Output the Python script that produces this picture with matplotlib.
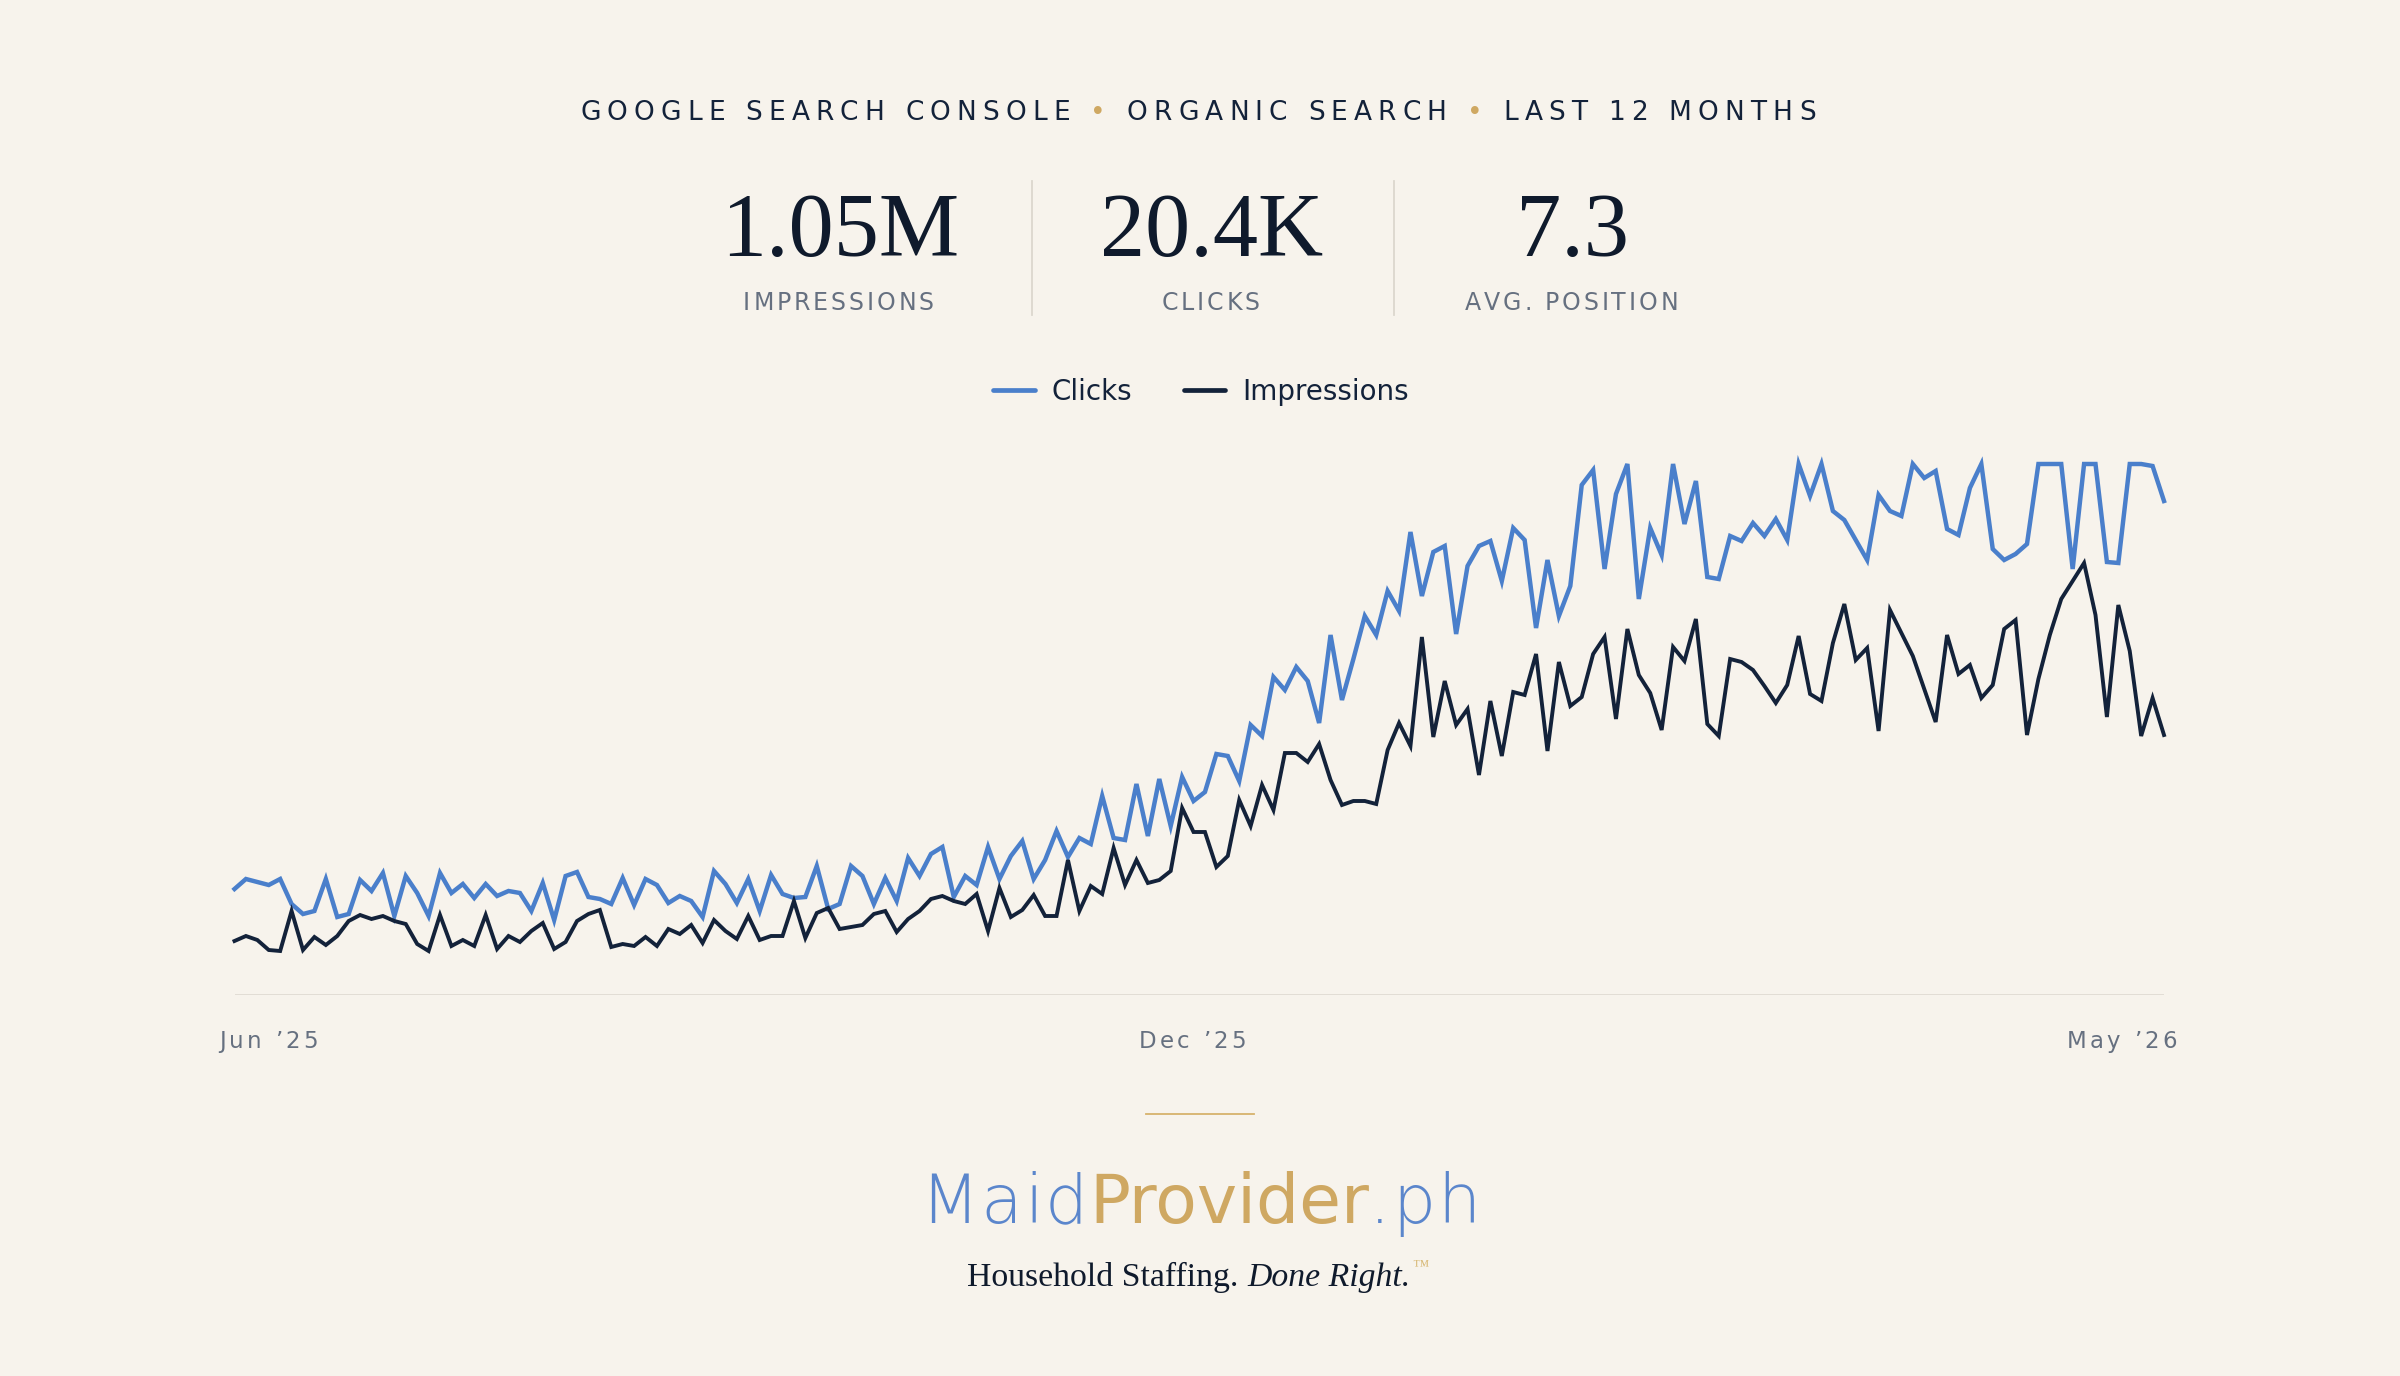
import matplotlib
matplotlib.use("Agg")
import matplotlib.pyplot as plt
from matplotlib.font_manager import FontProperties
from matplotlib.lines import Line2D
import numpy as np

# canvas in pixels
W, H = 2400, 1376
BG = "#F7F3EC"
NAVY = "#13223A"
INK = "#0F1A2C"
BLUE = "#4A7FCB"
GOLD = "#CFA862"
GREY = "#667080"
RULE = "#DCD7CE"

# values (relative units, same scale for both lines)
clicks = [
    106, 116, 113, 110, 116, 91, 81, 84, 116, 78,
    81, 115, 104, 122, 79, 119, 102, 79, 122, 102,
    111, 97, 111, 99, 104, 102, 84, 112, 75, 119,
    123, 98, 96, 91, 117, 90, 116, 110, 92, 99,
    94, 78, 124, 111, 92, 116, 84, 120, 101, 97,
    98, 129, 86, 91, 129, 119, 91, 117, 94, 137,
    119, 141, 148, 98, 119, 110, 148, 116, 139, 154,
    116, 135, 164, 138, 157, 151, 199, 157, 155, 211,
    159, 216, 169, 218, 194, 203, 241, 239, 214, 270,
    259, 318, 305, 328, 314, 272, 360, 295, 336, 379,
    360, 404, 384, 463, 399, 443, 449, 361, 429, 449,
    454, 414, 467, 455, 367, 435, 379, 409, 510, 525,
    426, 501, 531, 396, 467, 440, 531, 471, 514, 418,
    416, 459, 454, 472, 459, 476, 455, 531, 499, 531,
    484, 475, 455, 435, 500, 484, 479, 531, 517, 524,
    466, 460, 507, 531, 446, 435, 441, 451, 531, 531,
    531, 426, 531, 531, 433, 432, 531, 531, 529, 494,
]
impressions = [
    54, 59, 55, 45, 44, 84, 45, 58, 50, 59,
    74, 80, 76, 79, 74, 71, 51, 44, 80, 49,
    55, 49, 80, 46, 59, 53, 64, 72, 46, 53,
    74, 81, 85, 48, 51, 49, 58, 49, 66, 61,
    70, 52, 75, 64, 56, 79, 55, 59, 59, 94,
    57, 82, 87, 66, 68, 70, 81, 84, 63, 76,
    84, 96, 99, 94, 91, 101, 64, 107, 78, 85,
    100, 79, 79, 135, 84, 109, 101, 147, 110, 135,
    112, 115, 124, 187, 163, 163, 128, 139, 195, 169,
    210, 185, 242, 242, 233, 251, 215, 190, 194, 194,
    191, 245, 272, 249, 358, 258, 314, 270, 286, 220,
    294, 239, 303, 300, 341, 244, 333, 289, 298, 341,
    358, 276, 366, 320, 302, 265, 348, 334, 376, 271,
    259, 336, 333, 325, 309, 292, 310, 359, 301, 294,
    352, 391, 335, 347, 264, 385, 362, 339, 306, 273,
    360, 321, 330, 297, 310, 366, 375, 260, 316, 360,
    396, 414, 432, 380, 278, 390, 344, 259, 297, 260,
]
x_labels = ["Jun \u201925", "Dec \u201925", "May \u201926"]
header_parts = ["GOOGLE SEARCH CONSOLE", "ORGANIC SEARCH", "LAST 12 MONTHS"]
kpi_values = ["1.05M", "20.4K", "7.3"]
kpi_labels = ["IMPRESSIONS", "CLICKS", "AVG. POSITION"]

fig = plt.figure(figsize=(W / 100, H / 100), dpi=100, facecolor=BG)
renderer = fig.canvas.get_renderer()


def fp(family="DejaVu Sans", size=12, weight="normal", style="normal"):
    return FontProperties(family=family, size=size, weight=weight, style=style)


def text_width(s, prop):
    bar = renderer.get_text_width_height_descent("||", prop, ismath=False)[0]
    return renderer.get_text_width_height_descent("|" + s + "|", prop, ismath=False)[0] - bar


def draw_runs(runs, x, y, align="center"):
    # runs: (text, props, color, tracking px); x, y in pixels from top-left, y = baseline
    pieces = []
    for text, prop, color, track in runs:
        chunks = list(text) if track else [text]
        for ch in chunks:
            pieces.append((ch, prop, color, text_width(ch, prop) + track))
    total = sum(p[3] for p in pieces)
    if align == "center":
        x0 = x - total / 2
    elif align == "right":
        x0 = x - total
    else:
        x0 = x
    for ch, prop, color, adv in pieces:
        fig.text(x0 / W, 1 - y / H, ch, fontproperties=prop, color=color,
                 ha="left", va="baseline")
        x0 += adv
    return total


# header line
hp = fp(size=19)
tr = 0.233 * 19 * 100 / 72
runs = []
for k, part in enumerate(header_parts):
    if k:
        runs.append((" \u2022 ", hp, GOLD, tr))
    runs.append((part, hp, NAVY, tr))
draw_runs(runs, 1201, 120)

# KPI block
kpi_x = [840, 1212, 1573]
for cx, val, lab in zip(kpi_x, kpi_values, kpi_labels):
    fig.text(cx / W, 1 - 256 / H, val, fontproperties=fp("Liberation Serif", 65),
             color=INK, ha="center", va="baseline")
    draw_runs([(lab, fp(size=17), GREY, 2.9)], cx, 310)
for sx in [1032, 1394]:
    fig.add_artist(Line2D([sx / W, sx / W], [1 - 181 / H, 1 - 315 / H],
                          color=RULE, lw=1.3))

# chart
x0_px, x1_px, base_px, top_units = 234.5, 2164, 995, 560
ax = fig.add_axes([x0_px / W, (H - base_px) / H, (x1_px - x0_px) / W, top_units / H])
ax.set_facecolor("none")
xs = np.arange(len(clicks))
ax.set_xlim(0, len(clicks) - 1)
ax.set_ylim(0, top_units)
ax.axhline(0, color=RULE, lw=1.8, zorder=0)
ax.plot(xs, clicks, color=BLUE, lw=3.2, label="Clicks", clip_on=False,
        solid_joinstyle="miter", zorder=2)
ax.plot(xs, impressions, color=NAVY, lw=2.8, label="Impressions", clip_on=False,
        solid_joinstyle="miter", zorder=3)
ax.axis("off")

leg = fig.legend(loc="center", bbox_to_anchor=(1201 / W, 1 - 392 / H), ncol=2,
                 frameon=False, prop=fp(size=20), handlelength=1.5,
                 handletextpad=0.6, columnspacing=1.85, labelcolor=NAVY)
for h in leg.legend_handles:
    h.set_linewidth(3.4)
    h.set_solid_capstyle("round")

# month labels under the chart
lp = fp(size=16.5)
draw_runs([(x_labels[0], lp, GREY, 3.2)], 219, 1048, align="left")
draw_runs([(x_labels[1], lp, GREY, 3.2)], 1194, 1048)
draw_runs([(x_labels[2], lp, GREY, 3.2)], 2180, 1048, align="right")

# footer brand
fig.add_artist(Line2D([1146 / W, 1254 / W], [1 - 1114 / H] * 2, color="#D6B26C", lw=1.3))
draw_runs([
    ("Maid", fp(size=49, weight="light"), "#5B86CC", 1.5),
    ("Provider", fp(size=49), "#CFA862", 0),
    (".ph", fp(size=49, weight="light"), "#5B86CC", 1.5),
], 1201, 1223)

tag_w = draw_runs([
    ("Household Staffing. ", fp("Liberation Serif", 24.3), INK, 0),
    ("Done Right.", fp("Liberation Serif", 24.3, style="italic"), INK, 0),
], 1189, 1286)
fig.text((1189 + tag_w / 2 + 2) / W, 1 - 1270 / H, "\u2122",
         fontproperties=fp("Liberation Serif", 12), color="#D8B977",
         ha="left", va="baseline")

fig.savefig("out.png", dpi=100, facecolor=BG)
